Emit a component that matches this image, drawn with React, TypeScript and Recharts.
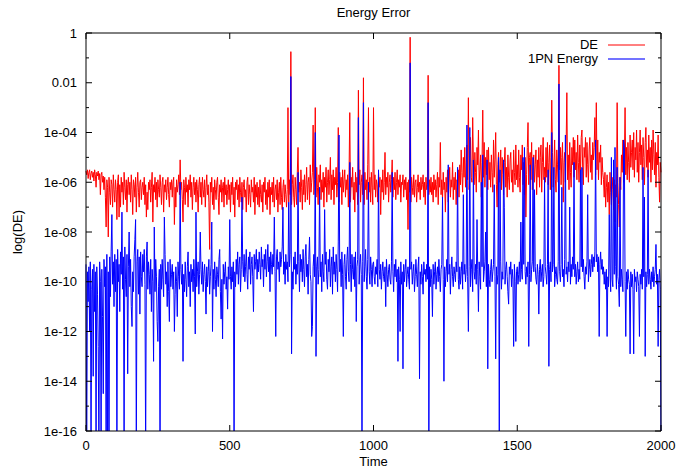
import React from 'react';
import { Line, LineChart, XAxis, YAxis } from 'recharts';

const STEP = 2.5; // time units between samples

// log10(DE), one value every 2.5 time units (t = 0 ... 2000), 40 values per 100 time units
const deLog = [
  // 0
  -5.55, -5.7, -5.5, -5.85, -5.6, -5.5, -5.9, -5.65, -5.55, -5.8,
  -5.6, -5.95, -5.5, -5.7, -6.2, -5.6, -5.75, -5.55, -5.9, -5.65,
  -6.5, -5.7, -5.6, -6.0, -5.75, -6.3, -5.8, -6.6, -7.8, -5.9,
  -6.2, -8.2, -5.8, -6.4, -6.9, -5.9, -6.1, -7.0, -5.7, -6.3,
  // 100
  -6.8, -5.9, -6.3, -7.5, -6.0, -5.7, -7.4, -6.1, -7.0, -5.8,
  -6.4, -6.0, -6.9, -5.6, -6.2, -6.7, -5.9, -7.2, -6.1, -5.8,
  -6.5, -6.0, -6.8, -5.7, -6.3, -7.3, -5.9, -6.1, -6.6, -5.8,
  -7.2, -6.2, -5.6, -6.4, -7.0, -6.0, -5.9, -6.7, -6.2, -6.0,
  // 200
  -6.5, -5.8, -6.9, -6.1, -7.4, -6.4, -7.1, -6.0, -6.3, -5.9,
  -6.8, -6.2, -5.6, -7.6, -6.1, -6.4, -5.8, -6.7, -6.0, -7.0,
  -5.9, -6.3, -6.6, -5.7, -6.2, -6.9, -6.0, -5.8, -7.2, -6.1,
  -6.4, -5.9, -6.7, -6.2, -5.8, -6.5, -7.0, -6.0, -6.3, -5.9,
  // 300
  -6.6, -6.0, -5.8, -7.7, -6.2, -7.0, -5.9, -6.4, -6.1, -5.7,
  -6.5, -5.1, -6.3, -6.0, -6.7, -7.6, -5.9, -6.2, -6.9, -5.8,
  -6.4, -6.1, -7.0, -5.9, -6.3, -5.7, -6.6, -6.0, -7.1, -6.2,
  -5.8, -6.5, -6.0, -6.8, -5.9, -6.3, -7.2, -6.1, -5.8, -6.6,
  // 400
  -6.0, -6.9, -5.8, -6.3, -6.6, -5.9, -7.0, -6.2, -5.7, -6.5,
  -6.1, -6.8, -8.7, -6.0, -6.4, -5.8, -6.9, -6.2, -7.1, -5.9,
  -6.3, -6.7, -6.0, -5.8, -6.6, -7.3, -6.1, -6.4, -5.9, -6.8,
  -6.2, -6.0, -7.0, -5.8, -6.5, -6.1, -6.9, -6.3, -5.9, -6.7,
  // 500
  -6.1, -7.2, -6.0, -6.5, -5.8, -6.9, -6.2, -7.4, -6.0, -6.3,
  -5.9, -6.7, -6.1, -7.0, -5.8, -6.4, -6.8, -6.0, -7.1, -6.2,
  -5.9, -6.6, -6.3, -7.2, -6.0, -5.8, -6.9, -6.1, -6.5, -7.0,
  -5.9, -6.4, -6.2, -6.8, -5.8, -7.3, -6.1, -6.6, -6.0, -6.9,
  // 600
  -6.2, -7.0, -5.9, -6.5, -6.8, -6.1, -7.2, -6.0, -6.4, -5.8,
  -6.9, -6.3, -7.1, -6.0, -6.6, -5.9, -7.3, -6.2, -6.5, -6.0,
  -6.8, -5.8, -7.0, -6.3, -6.1, -6.7, -5.9, -7.2, -6.4, -6.0,
  -6.9, -5.8, -6.6, -7.1, -6.2, -5.9, -6.8, -6.1, -6.5, -7.0,
  // 700
  -6.3, -3.0, -6.8, -5.9, -6.5, -0.75, -6.9, -6.1, -5.7, -6.6,
  -7.0, -5.8, -6.3, -6.9, -5.6, -4.6, -6.4, -6.0, -6.8, -5.5,
  -6.2, -7.1, -5.9, -6.5, -5.7, -6.8, -6.1, -5.4, -6.7, -6.0,
  -5.8, -6.9, -5.3, -6.4, -6.0, -5.6, -3.7, -6.5, -5.9, -3.0,
  // 800
  -6.6, -5.4, -6.2, -6.9, -5.7, -6.0, -5.3, -6.7, -5.9, -6.4,
  -5.6, -7.0, -5.8, -6.2, -5.4, -6.8, -6.0, -5.5, -6.5, -5.9,
  -5.0, -6.7, -5.7, -6.3, -5.5, -6.9, -5.8, -6.1, -5.4, -6.6,
  -6.0, -3.8, -6.8, -5.6, -6.2, -5.8, -6.9, -5.5, -6.4, -5.9,
  // 900
  -5.5, -6.6, -5.9, -6.3, -5.7, -7.0, -5.6, -3.2, -6.8, -5.8,
  -6.2, -5.4, -6.7, -6.0, -7.2, -5.6, -6.4, -5.8, -6.9, -2.3,
  -6.1, -5.5, -6.8, -6.0, -5.7, -6.5, -1.8, -6.9, -5.6, -6.3,
  -5.9, -6.7, -5.3, -3.0, -6.4, -5.8, -6.8, -5.6, -6.2, -6.9,
  // 1000
  -3.0, -6.3, -5.7, -6.6, -5.9, -6.1, -6.8, -5.6, -6.2, -5.8,
  -7.3, -5.9, -6.4, -5.5, -6.7, -6.0, -4.8, -6.5, -5.8, -6.2,
  -5.6, -6.8, -6.0, -5.7, -6.4, -5.9, -5.1, -6.6, -5.8, -6.3,
  -5.6, -6.7, -6.0, -5.5, -6.5, -5.9, -6.2, -5.7, -6.8, -6.0,
  // 1100
  -6.1, -5.7, -6.6, -5.9, -6.3, -5.8, -6.7, -6.0, -7.9, -5.9,
  -6.4, -0.17, -6.8, -5.8, -6.2, -6.5, -5.7, -6.6, -6.0, -5.9,
  -6.8, -6.2, -5.7, -6.4, -6.0, -6.7, -5.8, -6.3, -6.1, -5.7,
  -6.6, -6.0, -6.9, -5.8, -6.3, -6.1, -1.7, -6.5, -5.9, -6.4,
  // 1200
  -5.8, -6.5, -6.0, -6.8, -5.7, -6.3, -5.9, -6.6, -6.1, -5.6,
  -6.9, -5.8, -6.2, -4.4, -6.5, -5.9, -6.7, -5.6, -6.3, -6.0,
  -7.2, -5.8, -6.4, -5.5, -6.8, -6.0, -5.4, -6.6, -5.9, -6.2,
  -5.2, -6.7, -5.8, -6.3, -5.6, -6.9, -5.9, -6.1, -5.5, -6.6,
  // 1300
  -5.3, -6.1, -4.7, -5.6, -6.4, -5.0, -5.8, -4.6, -6.2, -5.2,
  -4.5, -5.9, -2.6, -6.3, -5.4, -4.2, -5.8, -6.0, -3.4, -5.1,
  -6.1, -4.8, -5.6, -6.4, -4.6, -5.3, -3.9, -6.0, -5.5, -4.9,
  -6.6, -5.2, -3.1, -5.8, -4.4, -6.2, -5.0, -5.7, -4.7, -6.3,
  // 1400
  -4.6, -5.9, -5.2, -6.2, -4.9, -5.6, -6.4, -4.3, -5.8, -5.1,
  -4.0, -6.1, -7.0, -5.3, -4.8, -6.0, -5.5, -4.7, -6.3, -5.0,
  -5.7, -6.5, -5.2, -4.6, -6.2, -5.4, -6.6, -4.9, -5.8, -6.3,
  -5.1, -4.8, -6.0, -5.5, -6.4, -4.7, -5.6, -6.1, -4.5, -5.9,
  // 1500
  -5.3, -6.2, -4.7, -5.8, -6.4, -4.9, -5.5, -4.5, -6.1, -5.2,
  -6.5, -5.0, -7.4, -5.7, -4.6, -3.6, -6.1, -5.0, -4.8, -5.9,
  -4.4, -6.3, -5.4, -4.9, -6.0, -5.3, -4.7, -6.5, -5.1, -5.8,
  -4.6, -6.2, -5.0, -4.5, -6.4, -5.2, -4.2, -5.9, -5.4, -6.0,
  // 1600
  -4.6, -5.8, -4.4, -6.1, -5.2, -4.5, -6.3, -5.0, -2.7, -4.8,
  -6.2, -5.4, -4.3, -5.9, -6.4, -4.7, -5.3, -6.0, -1.3, -5.5,
  -4.6, -6.1, -5.0, -4.4, -6.8, -5.2, -4.8, -6.0, -4.5, -2.4,
  -5.9, -4.9, -6.3, -4.4, -5.6, -6.2, -4.6, -5.3, -4.2, -5.8,
  // 1700
  -4.3, -5.5, -4.8, -5.9, -4.1, -5.2, -6.0, -4.5, -5.7, -4.2,
  -3.9, -5.4, -6.1, -4.6, -5.0, -4.2, -5.8, -4.4, -5.3, -6.0,
  -4.7, -4.2, -5.6, -4.9, -5.9, -4.4, -5.1, -4.6, -3.4, -5.7,
  -2.8, -5.5, -4.3, -5.9, -4.8, -5.2, -4.5, -6.1, -5.0, -5.6,
  // 1800
  -5.9, -6.6, -5.6, -7.0, -6.2, -5.7, -6.8, -6.0, -7.3, -5.6,
  -6.4, -6.9, -5.8, -6.3, -7.1, -5.9, -7.6, -6.1, -6.6, -2.8,
  -6.0, -6.9, -7.8, -5.8, -6.3, -4.9, -5.6, -4.3, -6.0, -5.2,
  -3.0, -5.7, -4.6, -5.9, -4.4, -5.2, -6.0, -4.1, -5.4, -4.8,
  // 1900
  -4.3, -5.5, -4.0, -5.8, -4.6, -5.1, -3.9, -5.6, -4.4, -6.0,
  -4.8, -3.9, -5.3, -4.5, -5.9, -4.2, -5.0, -6.1, -4.4, -3.8,
  -5.4, -4.7, -5.8, -4.1, -5.2, -4.6, -6.0, -4.3, -5.5, -3.9,
  -4.9, -5.7, -4.4, -6.2, -4.8, -5.3, -4.1, -5.8, -6.8, -5.2,
  // 2000
  -5.6,
];

// log10 of the 1PN energy error, same sampling; -17 means below the 1e-16 floor
const pnLog = [
  // 0
  -9.3, -17, -9.6, -10.8, -9.4, -12.0, -9.2, -17, -10.3, -9.5,
  -13.8, -9.3, -11.2, -9.6, -17, -9.4, -10.5, -12.6, -17, -9.2,
  -10.0, -17, -9.5, -11.4, -14.5, -9.1, -10.2, -9.4, -17, -8.9,
  -17, -9.6, -17, -9.0, -10.6, -8.8, -7.3, -10.1, -9.2, -11.0,
  // 100
  -8.9, -10.4, -9.1, -17, -8.7, -10.0, -9.3, -11.2, -8.8, -9.7,
  -7.2, -10.3, -9.0, -17, -8.6, -9.9, -10.6, -8.9, -13.7, -9.4,
  -8.0, -10.2, -9.1, -11.0, -11.8, -9.6, -10.4, -9.0, -8.3, -7.5,
  -17, -9.2, -8.7, -10.5, -9.0, -11.3, -8.8, -9.8, -10.2, -8.9,
  // 200
  -9.6, -8.7, -10.1, -17, -9.0, -8.4, -10.3, -9.2, -9.7, -10.5,
  -9.1, -11.2, -9.5, -10.0, -13.2, -7.8, -10.4, -9.1, -9.8, -11.6,
  -12.4, -10.2, -9.5, -17, -9.3, -10.3, -9.1, -9.9, -10.6, -7.4,
  -8.9, -10.1, -9.6, -11.0, -9.2, -10.4, -11.6, -9.1, -10.2, -9.7,
  // 300
  -9.3, -10.3, -9.6, -12.0, -10.5, -9.4, -10.0, -11.4, -9.2, -9.8,
  -10.3, -6.0, -9.5, -10.1, -9.3, -13.2, -9.7, -10.4, -9.2, -9.9,
  -10.6, -9.4, -8.8, -10.2, -9.6, -11.0, -9.3, -10.0, -9.5, -10.4,
  -9.1, -9.8, -12.1, -7.2, -10.2, -9.6, -9.2, -10.5, -9.7, -8.0,
  // 400
  -9.5, -10.1, -9.2, -10.4, -9.7, -9.3, -10.0, -11.3, -9.4, -10.2,
  -9.6, -9.1, -10.5, -9.8, -9.3, -7.6, -12.0, -9.5, -10.3, -9.2,
  -9.9, -10.6, -9.4, -9.7, -10.2, -9.1, -8.7, -10.4, -11.5, -9.9,
  -12.3, -9.3, -10.1, -9.6, -9.2, -10.3, -9.8, -11.1, -9.4, -9.9,
  // 500
  -7.5, -9.8, -10.3, -9.4, -10.0, -9.2, -17, -9.6, -10.2, -9.1,
  -9.7, -8.8, -10.1, -9.3, -9.0, -10.4, -9.5, -6.6, -9.2, -9.8,
  -8.9, -10.0, -9.4, -8.7, -9.7, -10.3, -9.0, -9.5, -8.8, -10.1,
  -9.3, -9.0, -9.8, -11.2, -8.9, -9.5, -9.2, -8.7, -9.9, -9.1,
  // 600
  -9.6, -8.8, -9.3, -9.9, -8.6, -9.4, -9.1, -10.2, -8.9, -9.5,
  -8.7, -9.8, -9.2, -8.5, -9.6, -9.0, -10.4, -8.8, -9.3, -9.7,
  -8.9, -9.4, -7.4, -9.6, -12.2, -9.0, -8.7, -9.5, -9.2, -10.0,
  -8.8, -9.4, -9.1, -8.6, -7.0, -9.7, -9.2, -10.1, -8.9, -9.5,
  // 700
  -9.2, -10.0, -6.8, -9.4, -8.9, -1.75, -12.9, -9.6, -10.3, -9.0,
  -9.5, -8.8, -10.1, -9.3, -9.7, -5.6, -9.2, -10.4, -8.9, -9.6,
  -9.1, -10.0, -8.7, -9.5, -10.2, -9.0, -8.5, -9.8, -9.3, -10.5,
  -9.1, -8.2, -9.7, -10.0, -12.2, -11.8, -9.4, -8.9, -9.8, -4.0,
  // 800
  -13.0, -9.4, -9.0, -10.1, -9.5, -6.2, -9.8, -9.2, -10.4, -8.9,
  -9.6, -10.0, -7.1, -9.3, -8.8, -9.9, -10.3, -9.1, -9.6, -8.7,
  -10.2, -9.4, -9.0, -10.5, -8.6, -9.7, -9.2, -10.0, -8.9, -9.5,
  -10.4, -8.4, -4.1, -9.6, -9.1, -10.2, -8.8, -9.7, -12.2, -9.3,
  // 900
  -8.9, -9.8, -10.3, -9.1, -8.6, -9.6, -10.0, -5.2, -9.3, -10.4,
  -8.9, -9.5, -9.9, -9.0, -10.2, -8.8, -11.6, -9.4, -9.1, -3.4,
  -10.1, -9.3, -8.9, -9.7, -17, -9.2, -2.8, -10.0, -9.4, -8.7,
  -9.8, -10.3, -9.1, -6.0, -9.6, -10.1, -9.0, -9.5, -10.2, -9.3,
  // 1000
  -9.2, -9.8, -10.1, -9.4, -9.7, -9.1, -10.2, -5.5, -9.5, -9.9,
  -9.3, -10.3, -9.6, -9.2, -9.8, -10.0, -9.4, -11.0, -9.1, -9.7,
  -10.2, -9.5, -9.3, -9.9, -10.1, -9.2, -5.6, -9.6, -10.4, -9.3,
  -9.8, -9.1, -10.0, -9.5, -13.2, -9.4, -9.9, -12.0, -9.2, -10.1,
  // 1100
  -9.6, -13.5, -9.3, -10.0, -9.5, -9.1, -10.2, -9.7, -9.4, -9.9,
  -10.3, -1.2, -9.5, -9.2, -10.1, -9.6, -9.3, -10.4, -9.8, -9.1,
  -9.7, -10.2, -9.4, -9.0, -13.9, -9.6, -10.1, -9.3, -9.8, -10.5,
  -9.2, -9.7, -9.5, -10.0, -9.3, -9.9, -2.8, -17, -9.4, -10.2,
  // 1200
  -9.5, -9.9, -11.4, -9.3, -10.1, -9.6, -9.2, -10.3, -9.7, -9.4,
  -10.0, -9.1, -9.8, -10.4, -9.5, -9.3, -6.6, -9.9, -14.0, -9.4,
  -10.2, -9.6, -9.1, -10.0, -5.3, -9.7, -9.3, -10.5, -9.5, -9.0,
  -9.8, -10.2, -9.4, -9.7, -10.0, -9.2, -9.6, -5.4, -9.9, -10.3,
  // 1300
  -9.4, -10.1, -9.6, -9.2, -10.3, -6.5, -9.7, -9.3, -10.0, -9.5,
  -3.7, -9.8, -12.0, -9.4, -3.8, -10.2, -9.5, -9.1, -10.4, -5.1,
  -9.6, -9.9, -9.3, -10.1, -7.5, -9.5, -11.2, -9.2, -9.8, -10.3,
  -6.0, -9.4, -4.9, -10.0, -9.6, -9.2, -8.0, -10.2, -5.1, -13.5,
  // 1400
  -9.3, -9.9, -10.2, -9.5, -9.1, -10.0, -9.6, -9.3, -6.1, -9.8,
  -13.1, -9.4, -10.1, -9.7, -5.0, -17, -5.5, -9.2, -10.3, -9.6,
  -9.9, -5.1, -7.0, -10.1, -9.5, -9.2, -9.8, -10.4, -10.9, -9.4,
  -9.7, -9.2, -10.2, -9.5, -9.9, -12.6, -9.3, -10.0, -12.4, -9.6,
  // 1500
  -9.4, -10.1, -9.7, -9.2, -10.0, -7.6, -9.5, -9.9, -5.0, -9.3,
  -4.6, -9.6, -10.1, -9.4, -9.8, -9.2, -12.6, -9.7, -5.3, -10.0,
  -9.5, -9.2, -5.0, -9.6, -6.3, -9.4, -9.9, -10.1, -9.3, -9.7,
  -11.3, -9.5, -9.1, -10.0, -9.6, -9.3, -10.2, -9.8, -5.8, -9.4,
  // 1600
  -9.7, -10.1, -9.3, -5.5, -13.4, -9.5, -9.2, -10.0, -4.0, -9.6,
  -9.3, -5.4, -10.2, -9.7, -9.4, -9.9, -10.1, -9.2, -2.05, -9.6,
  -10.0, -9.3, -6.2, -9.8, -9.5, -10.2, -9.1, -4.1, -9.7, -9.4,
  -10.0, -9.2, -9.6, -7.0, -10.1, -9.3, -9.8, -9.0, -9.5, -5.2,
  // 1700
  -9.8, -9.3, -10.1, -9.6, -9.2, -10.0, -9.5, -9.9, -5.5, -9.4,
  -5.4, -9.6, -9.1, -9.8, -10.3, -9.4, -9.7, -9.2, -6.5, -10.0,
  -9.5, -9.1, -9.8, -9.3, -8.9, -9.6, -9.0, -9.4, -8.8, -4.3,
  -9.2, -8.9, -9.6, -9.0, -12.2, -9.3, -8.8, -9.5, -9.1, -9.7,
  // 1800
  -9.4, -10.1, -9.6, -10.3, -9.5, -12.2, -9.8, -10.2, -7.3, -9.6,
  -10.4, -5.0, -9.9, -10.2, -5.1, -9.7, -4.6, -9.4, -10.3, -5.4,
  -9.8, -10.1, -11.0, -5.8, -10.2, -9.5, -9.9, -10.4, -4.3, -4.6,
  -10.0, -12.2, -9.6, -10.3, -9.5, -9.9, -10.1, -12.9, -9.6, -10.2,
  // 1900
  -9.7, -10.3, -12.9, -9.5, -10.0, -9.8, -10.4, -9.6, -9.9, -10.2,
  -12.2, -9.7, -10.1, -9.5, -10.3, -5.4, -9.8, -6.6, -13.0, -9.6,
  -10.2, -9.7, -5.5, -10.1, -9.5, -9.9, -10.3, -9.6, -10.0, -9.4,
  -10.2, -9.8, -9.5, -8.5, -10.1, -9.7, -12.6, -9.9, -9.5, -10.3,
  // 2000
  -17,
];

const xTicks = [0, 500, 1000, 1500, 2000];
const yTicks = [-16, -15, -14, -13, -12, -11, -10, -9, -8, -7, -6, -5, -4, -3, -2, -1, 0];

const data = deLog.map((v, i) => ({ t: i * STEP, de: v, pn: pnLog[i] }));

const FONT = '"Liberation Sans", Arial, Helvetica, sans-serif';

const yLabel = (v: number) => {
  if (v === 0) return '1';
  if (v === -2) return '0.01';
  return `1e-${String(-v).padStart(2, '0')}`;
};

const LeftTick = (props: any) => {
  const { x, y, payload } = props;
  const major = payload.value % 2 === 0;
  return (
    <g>
      <line x1={x} y1={y} x2={x + (major ? 6 : 3)} y2={y} stroke="#000" />
      {major && (
        <text x={x - 9} y={y + 4.5} textAnchor="end" fontSize={13} fontFamily={FONT} fill="#000">
          {yLabel(payload.value)}
        </text>
      )}
    </g>
  );
};

const RightTick = (props: any) => {
  const { x, y, payload } = props;
  const major = payload.value % 2 === 0;
  return <line x1={x} y1={y} x2={x - (major ? 6 : 3)} y2={y} stroke="#000" />;
};

const BottomTick = (props: any) => {
  const { x, y, payload } = props;
  return (
    <g>
      <line x1={x} y1={y} x2={x} y2={y - 6} stroke="#000" />
      <text x={x} y={y + 19} textAnchor="middle" fontSize={13} fontFamily={FONT} fill="#000">
        {payload.value}
      </text>
    </g>
  );
};

const TopTick = (props: any) => {
  const { x, y } = props;
  return <line x1={x} y1={y} x2={x} y2={y + 6} stroke="#000" />;
};

const legendItems = [
  { name: 'DE', color: '#ff0000', width: 1, opacity: 1 },
  { name: '1PN Energy', color: '#0000ff', width: 2, opacity: 0.55 },
];

export default function App() {
  return (
    <div style={{ position: 'absolute', left: 0, top: 0, width: 679, height: 470, background: '#fff', fontFamily: FONT, color: '#000' }}>
      <LineChart width={679} height={470} data={data} margin={{ top: 0, right: 0, bottom: 0, left: 0 }}>
        <XAxis
          xAxisId="b"
          dataKey="t"
          type="number"
          domain={[0, 2000]}
          ticks={xTicks}
          height={39}
          tickSize={0}
          tickMargin={0}
          tickLine={false}
          tick={<BottomTick />}
          axisLine={{ stroke: '#000' }}
        />
        <XAxis
          xAxisId="t"
          orientation="top"
          dataKey="t"
          type="number"
          domain={[0, 2000]}
          ticks={xTicks}
          height={33}
          tickSize={0}
          tickMargin={0}
          tickLine={false}
          tick={<TopTick />}
          axisLine={{ stroke: '#000' }}
        />
        <YAxis
          yAxisId="l"
          type="number"
          domain={[-16, 0]}
          allowDataOverflow
          ticks={yTicks}
          interval={0}
          width={86}
          tickSize={0}
          tickMargin={0}
          tickLine={false}
          tick={<LeftTick />}
          axisLine={{ stroke: '#000' }}
        />
        <YAxis
          yAxisId="r"
          orientation="right"
          type="number"
          domain={[-16, 0]}
          allowDataOverflow
          ticks={yTicks}
          interval={0}
          width={18}
          tickSize={0}
          tickMargin={0}
          tickLine={false}
          tick={<RightTick />}
          axisLine={{ stroke: '#000' }}
        />
        <Line
          xAxisId="b"
          yAxisId="l"
          dataKey="de"
          type="linear"
          stroke="#ff0000"
          strokeWidth={1}
          dot={false}
          isAnimationActive={false}
        />
        <Line
          xAxisId="t"
          yAxisId="r"
          dataKey="pn"
          type="linear"
          stroke="#0000ff"
          strokeWidth={1}
          dot={false}
          isAnimationActive={false}
        />
      </LineChart>
      <div style={{ position: 'absolute', top: 5, left: 0, width: 747, textAlign: 'center', fontSize: 13 }}>
        Energy Error
      </div>
      <div style={{ position: 'absolute', top: 454, left: 0, width: 747, textAlign: 'center', fontSize: 13 }}>
        Time
      </div>
      <div
        style={{
          position: 'absolute',
          left: 17,
          top: 232,
          fontSize: 13,
          transform: 'translate(-50%, -50%) rotate(-90deg)',
          whiteSpace: 'nowrap',
        }}
      >
        log(DE)
      </div>
      <div style={{ position: 'absolute', top: 38, left: 440, width: 205, fontSize: 13 }}>
        {legendItems.map((s) => (
          <div key={s.name} style={{ display: 'flex', justifyContent: 'flex-end', alignItems: 'center', height: 14 }}>
            <span style={{ lineHeight: '14px' }}>{s.name}</span>
            <svg width={37} height={4} style={{ marginLeft: 10 }}>
              <line x1={0} y1={2} x2={37} y2={2} stroke={s.color} strokeWidth={s.width} strokeOpacity={s.opacity} />
            </svg>
          </div>
        ))}
      </div>
    </div>
  );
}
